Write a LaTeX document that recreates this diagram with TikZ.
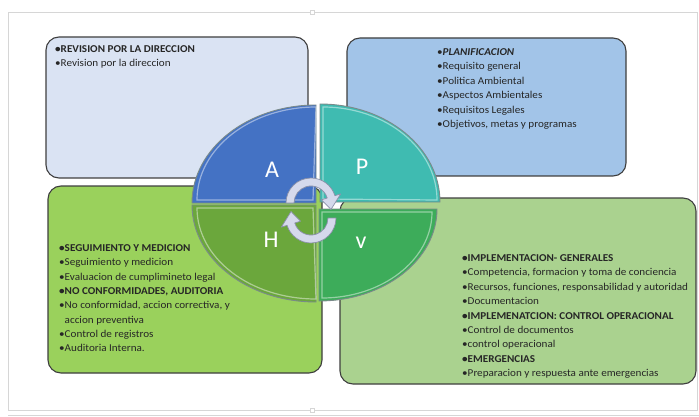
\documentclass[tikz,border=0pt]{standalone}
\usepackage{fontspec}
\setmainfont{Carlito}[FakeStretch=1.06]
\newfontfamily\letterfont{Carlito}
\definecolor{framec}{HTML}{D6D6D6}
\definecolor{boxborder}{HTML}{3F3F3F}
\definecolor{tlfill}{HTML}{DAE3F3}
\definecolor{trfill}{HTML}{A2C4E8}
\definecolor{blfill}{HTML}{9AD15C}
\definecolor{brfill}{HTML}{AAD28F}
\definecolor{qa}{HTML}{4472C4}
\definecolor{qp}{HTML}{3FBBB1}
\definecolor{qh}{HTML}{6BA73C}
\definecolor{qv}{HTML}{3DAC5A}
\definecolor{qborder}{HTML}{7A8A8A}
\definecolor{arrfill}{HTML}{D5D9EC}
\definecolor{arrborder}{HTML}{8A90A8}
\tikzset{
  box/.style={draw=boxborder, line width=1.1pt, rounded corners=13pt},
  quad/.style={draw=qborder, line width=0.9pt},
  hl/.style={white, opacity=0.45, line width=1.2pt},
  letter/.style={text=white, font=\letterfont\fontsize{24}{24}\selectfont, inner sep=0pt},
  txt/.style={anchor=base west, inner sep=0pt, font=\fontsize{10.5}{12}\selectfont, text=black!85},
  cyc/.style={fill=arrfill, draw=arrborder, line width=0.7pt, line join=round},
  handle/.style={fill=white, draw=framec, line width=0.6pt}
}
\begin{document}
\begin{tikzpicture}[x=1pt, y=-1pt]
\useasboundingbox[fill=white] (0,0) rectangle (699,417);
% outer frame
\draw[framec, line width=0.9pt] (8,12) rectangle (697,410);
\draw[framec, line width=0.7pt] (8,415) -- (699,415);
\node[handle, minimum size=4pt, inner sep=0pt] (h1) at (312,12) {};
\node[handle, minimum size=4pt, inner sep=0pt] (h2) at (312,410) {};
% boxes
\draw[box, fill=tlfill] (46,37) rectangle (308,178);
\draw[box, fill=trfill] (347,38) rectangle (626,176);
\draw[box, fill=blfill] (48,186) rectangle (322,373);
\draw[box, fill=brfill] (340,198) rectangle (696,384);
% quadrants
\filldraw[quad, fill=qa] (316,203) -- (192,203) arc[start angle=180, end angle=270, x radius=124, y radius=98] -- cycle;
\filldraw[quad, fill=qp] (320,202) -- (320,104) arc[start angle=270, end angle=360, x radius=120, y radius=98] -- cycle;
\filldraw[quad, fill=qh] (316,205) -- (192,205) arc[start angle=180, end angle=90, x radius=124, y radius=97] -- cycle;
\filldraw[quad, fill=qv] (319,209) -- (437,209) arc[start angle=0, end angle=90, x radius=118, y radius=92] -- cycle;
% highlights
\draw[hl] (197,200) arc[start angle=180, end angle=270, x radius=119, y radius=93] -- (313,200) -- cycle;
\draw[hl] (323,107) arc[start angle=270, end angle=360, x radius=114, y radius=93] -- (323,199) -- cycle;
\draw[hl] (197,208) arc[start angle=180, end angle=90, x radius=119, y radius=91] -- (313,208) -- cycle;
\draw[hl] (432,212) arc[start angle=0, end angle=90, x radius=110, y radius=86] -- (322,212) -- cycle;
% letters
\node[letter] (la) at (272,170) {A};
\node[letter] (lp) at (362,167) {P};
\node[letter] (lh) at (271,240) {H};
\node[letter] (lv) at (361,243) {v};
% cycle arrows
\begin{scope}[shift={(311,203)}]
\filldraw[cyc] (180:25) arc[start angle=180, end angle=343, radius=25] -- (343:31) -- (18:21) -- (343:11) -- (343:17) arc[start angle=343, end angle=180, radius=17] -- cycle;
\end{scope}
\begin{scope}[shift={(311,218)}]
\filldraw[cyc] (0:25) arc[start angle=0, end angle=163, radius=25] -- (163:31) -- (198:21) -- (163:11) -- (163:17) arc[start angle=163, end angle=0, radius=17] -- cycle;
\end{scope}
% texts
\foreach \t [count=\i from 0] in {{\textbf{•REVISION POR LA DIRECCION}}, {•Revision por la direccion}}
  \node[txt] (tl\i) at (55, 52.5+\i*14.5) {\t};
\foreach \t [count=\i from 0] in {{•\textbf{\textit{PLANIFICACION}}}, {•Requisito general}, {•Politica Ambiental}, {•Aspectos Ambientales}, {•Requisitos Legales}, {•Objetivos, metas y programas}}
  \node[txt] (tr\i) at (437, 55.5+\i*14.5) {\t};
\foreach \t [count=\i from 0] in {{\textbf{•SEGUIMIENTO Y MEDICION}}, {•Seguimiento y medicion}, {•Evaluacion de cumplimineto legal}, {\textbf{•NO CONFORMIDADES, AUDITORIA}}, {•No conformidad, accion correctiva, y}, {\phantom{•}accion preventiva}, {•Control de registros}, {•Auditoria Interna.}}
  \node[txt] (bl\i) at (59, 251.5+\i*14.3) {\t};
\foreach \t [count=\i from 0] in {{\textbf{•IMPLEMENTACION- GENERALES}}, {•Competencia, formacion y toma de conciencia}, {•Recursos, funciones, responsabilidad y autoridad}, {•Documentacion}, {\textbf{•IMPLEMENATCION: CONTROL OPERACIONAL}}, {•Control de documentos}, {•control operacional}, {\textbf{•EMERGENCIAS}}, {•Preparacion y respuesta ante emergencias}}
  \node[txt] (br\i) at (462, 261.5+\i*14.4) {\t};
\end{tikzpicture}
\end{document}
